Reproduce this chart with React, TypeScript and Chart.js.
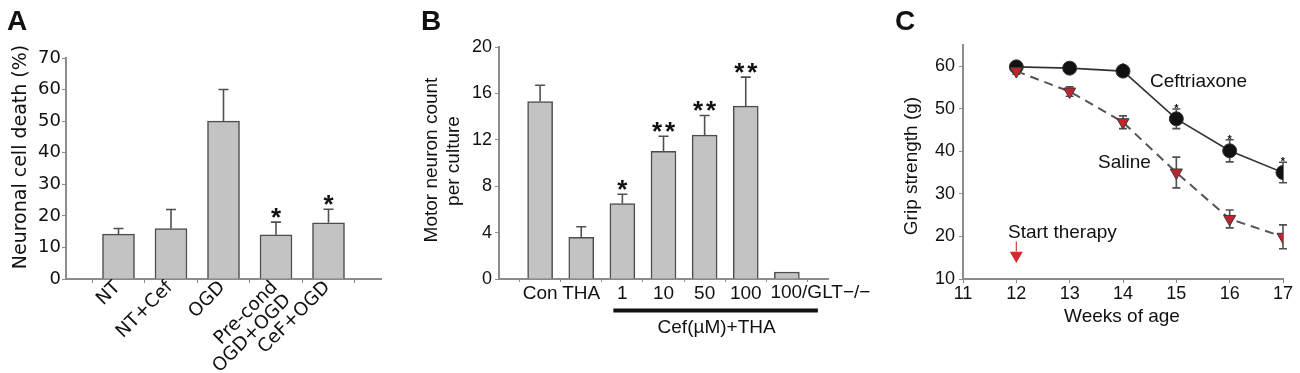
import React, { useEffect, useRef } from 'react';
import { Chart, registerables } from 'chart.js';

Chart.register(...registerables);

const FONT = '"Liberation Sans", Arial, Helvetica, sans-serif';
const FONT_A = '"DejaVu Sans", "Liberation Sans", Arial, sans-serif';
const INK = '#111111';
const AXIS = '#8c8c8c';
const BAR_FILL = '#c3c3c3';
const BAR_EDGE = '#4d4d4d';
const ERR = '#505050';

// ---------- Panel A ----------
const categoriesA: (string | string[])[] = ['NT', 'NT+Cef', 'OGD', ['Pre-cond', 'OGD+OGD'], 'CeF+OGD'];
const valuesA = [14.2, 16, 50, 14, 17.8];
const errorsA = [1.8, 6, 10, 4, 4.3];
const starsA = [0, 0, 0, 1, 1];
const yTicksA = [0, 10, 20, 30, 40, 50, 60, 70];

// ---------- Panel B ----------
const categoriesB = ['Con', 'THA', '1', '10', '50', '100', '100/GLT\u2212/\u2212'];
const valuesB = [15.3, 3.6, 6.5, 11.0, 12.4, 14.9, 0.6];
const errorsB = [1.4, 0.9, 0.8, 1.3, 1.7, 2.5, 0];
const starsB = [0, 0, 1, 2, 2, 2, 0];
const yTicksB = [0, 4, 8, 12, 16, 20];
const groupLabelB = 'Cef(\u00b5M)+THA';
const groupFromB = '1';
const groupToB = '100/GLT\u2212/\u2212';

// ---------- Panel C ----------
const weeksC = [12, 13, 14, 15, 16, 17];
const ceftriaxoneC = [59.8, 59.5, 58.8, 47.6, 40.1, 35.0];
const ceftriaxoneErrC = [0.9, 1.0, 0.8, 2.3, 2.6, 2.4];
const ceftriaxoneStarsC = [0, 0, 1, 1, 1, 1];
const salineC = [58.8, 54.0, 46.8, 35.0, 24.1, 19.9];
const salineErrC = [0.7, 1.1, 1.5, 3.6, 2.1, 2.8];
const yTicksC = [10, 20, 30, 40, 50, 60];
const xTicksC = [11, 12, 13, 14, 15, 16, 17];
const startWeek = 12;
const startMarkerY = 15.5;

type TextItem = {
  text: string; x: number; y: number; size?: number; weight?: string;
  rot?: boolean; align?: CanvasTextAlign; base?: CanvasTextBaseline; family?: string;
};

function drawText(ctx: CanvasRenderingContext2D, t: TextItem) {
  ctx.save();
  ctx.font = `${t.weight || 'normal'} ${t.size || 19}px ${t.family || FONT}`;
  ctx.fillStyle = INK;
  ctx.textAlign = t.align || 'center';
  ctx.textBaseline = t.base || 'middle';
  ctx.translate(t.x, t.y);
  if (t.rot) ctx.rotate(-Math.PI / 2);
  ctx.fillText(t.text, 0, 0);
  ctx.restore();
}

function textPlugin(id: string, items: TextItem[]) {
  return {
    id,
    afterDraw(chart: any) {
      items.forEach((t) => drawText(chart.ctx, t));
    },
  };
}

function valueOf(raw: any) {
  if (raw == null) return null;
  return typeof raw === 'number' ? raw : raw.y;
}

function errorBarPlugin(id: string, dsIndex: number, errors: (number | null)[], both: boolean, cap: number, before: boolean) {
  const draw = (chart: any) => {
    const meta = chart.getDatasetMeta(dsIndex);
    const ys = chart.scales.y;
    const ctx = chart.ctx as CanvasRenderingContext2D;
    ctx.save();
    ctx.strokeStyle = ERR;
    ctx.lineWidth = 1.6;
    meta.data.forEach((el: any, i: number) => {
      const v = valueOf(chart.data.datasets[dsIndex].data[i]);
      const e = errors[i];
      if (v == null || e == null || e <= 0) return;
      const top = ys.getPixelForValue(v + e);
      const bottom = both ? ys.getPixelForValue(v - e) : el.y;
      ctx.beginPath();
      ctx.moveTo(el.x, bottom);
      ctx.lineTo(el.x, top);
      ctx.moveTo(el.x - cap / 2, top);
      ctx.lineTo(el.x + cap / 2, top);
      if (both) {
        ctx.moveTo(el.x - cap / 2, bottom);
        ctx.lineTo(el.x + cap / 2, bottom);
      }
      ctx.stroke();
    });
    ctx.restore();
  };
  return before ? { id, beforeDatasetsDraw: draw } : { id, afterDatasetsDraw: draw };
}

function starPlugin(id: string, dsIndex: number, errors: (number | null)[], stars: number[], size: number, gap: number, spacing: number) {
  return {
    id,
    afterDatasetsDraw(chart: any) {
      const meta = chart.getDatasetMeta(dsIndex);
      const ys = chart.scales.y;
      const ctx = chart.ctx as CanvasRenderingContext2D;
      ctx.save();
      ctx.font = `bold ${size}px ${FONT}`;
      ctx.fillStyle = INK;
      ctx.textAlign = 'center';
      ctx.textBaseline = 'alphabetic';
      meta.data.forEach((el: any, i: number) => {
        const n = stars[i] || 0;
        const v = valueOf(chart.data.datasets[dsIndex].data[i]);
        if (!n || v == null) return;
        const top = ys.getPixelForValue(v + (errors[i] || 0));
        for (let k = 0; k < n; k++) {
          const dx = (k - (n - 1) / 2) * spacing;
          ctx.fillText('*', el.x + dx, top + gap);
        }
      });
      ctx.restore();
    },
  };
}

const tickFont = (size: number, family: string = FONT, lineHeight: number = 1.2) => ({ family, size, lineHeight });

function buildA(canvas: HTMLCanvasElement) {
  const labels = ['', ...categoriesA, ''];
  const data = [null, ...valuesA, null];
  const errs = [null, ...errorsA, null];
  const stars = [0, ...starsA, 0];
  return new Chart(canvas, {
    type: 'bar',
    data: {
      labels,
      datasets: [{
        data,
        backgroundColor: BAR_FILL,
        borderColor: BAR_EDGE,
        borderWidth: 1.5,
        barThickness: 32,
      } as any],
    },
    options: {
      responsive: false,
      animation: false,
      layout: { padding: { left: 0, right: 39, top: 58, bottom: 0 } },
      plugins: { legend: { display: false }, tooltip: { enabled: false } },
      scales: {
        x: {
          offset: false,
          grid: { display: true, drawOnChartArea: false, tickLength: 4, color: AXIS },
          border: { color: AXIS, width: 2 },
          ticks: {
            autoSkip: false, maxRotation: 45, minRotation: 45, padding: -5, labelOffset: -1,
            font: tickFont(18.5, FONT_A, 1.0), color: INK,
          },
          afterFit: (s: any) => { s.height = 94; },
        },
        y: {
          min: yTicksA[0], max: yTicksA[yTicksA.length - 1],
          afterBuildTicks: (s: any) => { s.ticks = yTicksA.map((v) => ({ value: v })); },
          grid: { display: true, drawOnChartArea: false, tickLength: 4, color: AXIS },
          border: { color: AXIS, width: 2 },
          ticks: { font: tickFont(18, FONT_A), color: INK, padding: 1 },
          afterFit: (s: any) => { s.width = 66; },
        },
      },
    } as any,
    plugins: [
      errorBarPlugin('errA', 0, errs, false, 10, false),
      starPlugin('starA', 0, errs, stars, 26, 4, 13),
      textPlugin('txtA', [
        { text: 'A', x: 7, y: 30, size: 28, weight: 'bold', align: 'left', base: 'alphabetic' },
        { text: 'Neuronal cell death (%)', x: 21, y: 157, size: 19, rot: true, family: FONT_A },
      ]),
    ] as any,
  });
}

function buildB(canvas: HTMLCanvasElement) {
  const labels = ['', ...categoriesB, ''];
  const data = [null, ...valuesB, null];
  const errs = [null, ...errorsB, null];
  const stars = [0, ...starsB, 0];
  const groupPlugin = {
    id: 'groupB',
    afterDraw(chart: any) {
      const xs = chart.scales.x;
      const ctx = chart.ctx as CanvasRenderingContext2D;
      const x1 = xs.getPixelForValue(labels.indexOf(groupFromB)) - 9;
      const xEnd = xs.getPixelForValue(labels.indexOf(groupToB));
      const x2 = xEnd + 31;
      ctx.save();
      ctx.fillStyle = INK;
      ctx.fillRect(x1, 308.5, x2 - x1, 4);
      ctx.restore();
      drawText(ctx, { text: groupLabelB, x: (x1 + x2) / 2 + 1, y: 328, size: 19 });
      drawText(ctx, { text: groupToB, x: xEnd - 16.5, y: 293, size: 19, align: 'left' });
    },
  };
  return new Chart(canvas, {
    type: 'bar',
    data: {
      labels,
      datasets: [{
        data,
        backgroundColor: BAR_FILL,
        borderColor: BAR_EDGE,
        borderWidth: 1.5,
        barThickness: 25,
      } as any],
    },
    options: {
      responsive: false,
      animation: false,
      layout: { padding: { left: 0, right: 52, top: 47, bottom: 0 } },
      plugins: { legend: { display: false }, tooltip: { enabled: false } },
      scales: {
        x: {
          offset: false,
          grid: { display: true, drawOnChartArea: false, tickLength: 3, color: AXIS },
          border: { color: AXIS, width: 2 },
          ticks: {
            autoSkip: false, maxRotation: 0, minRotation: 0, padding: 0,
            font: tickFont(19), color: INK,
            callback: (_v: any, i: number) => (labels[i] === groupToB ? '' : labels[i]),
          },
          afterFit: (s: any) => { s.height = 94; },
        },
        y: {
          min: yTicksB[0], max: yTicksB[yTicksB.length - 1],
          afterBuildTicks: (s: any) => { s.ticks = yTicksB.map((v) => ({ value: v })); },
          grid: { display: true, drawOnChartArea: false, tickLength: 4, color: AXIS },
          border: { color: AXIS, width: 2 },
          ticks: { font: tickFont(18), color: INK, padding: 3 },
          afterFit: (s: any) => { s.width = 79; },
        },
      },
    } as any,
    plugins: [
      errorBarPlugin('errB', 0, errs, false, 10, false),
      starPlugin('starB', 0, errs, stars, 26, 4, 13),
      groupPlugin,
      textPlugin('txtB', [
        { text: 'B', x: 1, y: 30, size: 28, weight: 'bold', align: 'left', base: 'alphabetic' },
        { text: 'Motor neuron count', x: 12, y: 160, size: 19, rot: true },
        { text: 'per culture', x: 34, y: 161, size: 19, rot: true },
      ]),
    ] as any,
  });
}

function buildC(canvas: HTMLCanvasElement) {
  const cefData = weeksC.map((w, i) => ({ x: w, y: ceftriaxoneC[i] }));
  const salData = weeksC.map((w, i) => ({ x: w, y: salineC[i] }));
  const arrowPlugin = {
    id: 'arrowC',
    afterDatasetsDraw(chart: any) {
      const xs = chart.scales.x;
      const ys = chart.scales.y;
      const ctx = chart.ctx as CanvasRenderingContext2D;
      const x = xs.getPixelForValue(startWeek);
      const y = ys.getPixelForValue(startMarkerY);
      ctx.save();
      ctx.strokeStyle = '#d23a3a';
      ctx.lineWidth = 1.2;
      ctx.beginPath();
      ctx.moveTo(x, y - 14);
      ctx.lineTo(x, y - 4);
      ctx.stroke();
      ctx.restore();
    },
  };
  return new Chart(canvas, {
    type: 'line',
    data: {
      datasets: [
        {
          label: 'Saline',
          data: salData,
          borderColor: '#555555',
          borderWidth: 2,
          borderDash: [9, 6],
          pointStyle: 'triangle',
          rotation: 180,
          pointRadius: 7,
          pointBackgroundColor: '#c3242c',
          pointBorderColor: '#3a3a3a',
          pointBorderWidth: 1,
          order: 1,
        },
        {
          label: 'Ceftriaxone',
          data: cefData,
          borderColor: '#333333',
          borderWidth: 1.6,
          pointStyle: 'circle',
          pointRadius: 7,
          pointBackgroundColor: '#111111',
          pointBorderColor: '#333333',
          pointBorderWidth: 1,
          order: 2,
        },
        {
          label: 'Start therapy',
          data: [{ x: startWeek, y: startMarkerY }],
          showLine: false,
          pointStyle: 'triangle',
          rotation: 180,
          pointRadius: 7.5,
          pointBackgroundColor: '#d8282e',
          pointBorderColor: '#d8282e',
          pointBorderWidth: 0,
          order: 0,
        },
      ] as any,
    },
    options: {
      responsive: false,
      animation: false,
      layout: { padding: { left: 0, right: 17, top: 44.7, bottom: 0 } },
      plugins: { legend: { display: false }, tooltip: { enabled: false } },
      scales: {
        x: {
          type: 'linear',
          min: xTicksC[0], max: xTicksC[xTicksC.length - 1],
          afterBuildTicks: (s: any) => { s.ticks = xTicksC.map((v) => ({ value: v })); },
          grid: { display: true, drawOnChartArea: false, tickLength: 4, color: AXIS },
          border: { color: AXIS, width: 2 },
          ticks: { font: tickFont(18), color: INK, padding: 0 },
          afterFit: (s: any) => { s.height = 94; },
        },
        y: {
          min: 10, max: 65,
          afterBuildTicks: (s: any) => { s.ticks = yTicksC.map((v) => ({ value: v })); },
          grid: { display: true, drawOnChartArea: false, tickLength: 4, color: AXIS },
          border: { color: AXIS, width: 2 },
          ticks: { font: tickFont(18), color: INK, padding: 4 },
          afterFit: (s: any) => { s.width = 83; },
        },
      },
    } as any,
    plugins: [
      errorBarPlugin('errCs', 0, salineErrC, true, 8, true),
      errorBarPlugin('errCc', 1, ceftriaxoneErrC, true, 8, true),
      starPlugin('starC', 1, ceftriaxoneErrC, ceftriaxoneStarsC, 11, 3, 0),
      arrowPlugin,
      textPlugin('txtC', [
        { text: 'C', x: 15, y: 30, size: 28, weight: 'bold', align: 'left', base: 'alphabetic' },
        { text: 'Grip strength (g)', x: 32, y: 166, size: 19, rot: true },
        { text: 'Weeks of age', x: 242, y: 317, size: 19 },
        { text: 'Ceftriaxone', x: 270, y: 82, size: 19, align: 'left' },
        { text: 'Saline', x: 218, y: 163, size: 19, align: 'left' },
        { text: 'Start therapy', x: 128, y: 233, size: 19, align: 'left' },
      ]),
    ] as any,
  });
}

function Panel({ left, width, build }: { left: number; width: number; build: (c: HTMLCanvasElement) => Chart }) {
  const ref = useRef<HTMLCanvasElement | null>(null);
  useEffect(() => {
    if (!ref.current) return;
    const chart = build(ref.current);
    return () => chart.destroy();
  }, [build]);
  return (
    <canvas
      ref={ref}
      width={width}
      height={373}
      style={{ position: 'absolute', left, top: 0, width, height: 373 }}
    />
  );
}

export default function App() {
  return (
    <div style={{ position: 'absolute', left: 0, top: 0, width: 1300, height: 373, background: '#ffffff', overflow: 'hidden' }}>
      <Panel left={0} width={420} build={buildA} />
      <Panel left={420} width={460} build={buildB} />
      <Panel left={880} width={420} build={buildC} />
    </div>
  );
}
